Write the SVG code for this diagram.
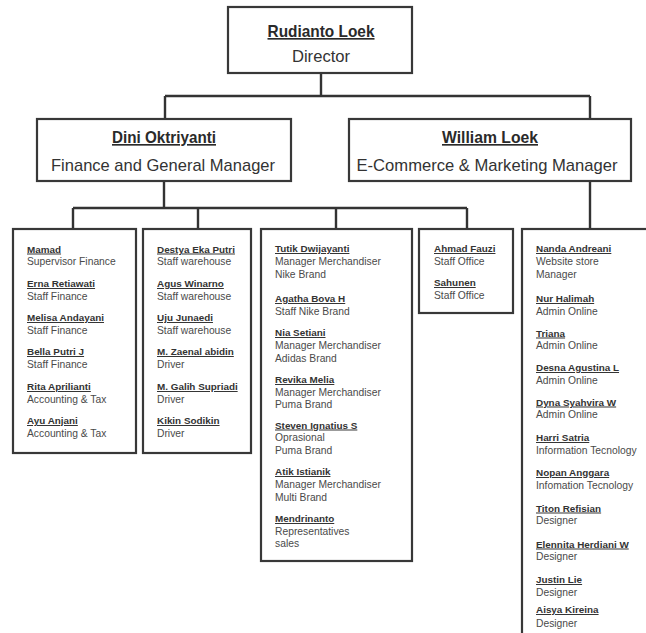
<svg xmlns="http://www.w3.org/2000/svg" width="646" height="633" viewBox="0 0 646 633">
<style>
.box{fill:#fff;stroke:#383838;stroke-width:2.2}
.conn{fill:none;stroke:#333;stroke-width:2.4}
.bn{font-family:"Liberation Sans",Arial,sans-serif;font-weight:bold;font-size:16.5px;fill:#2a2a2a;text-decoration:underline;text-anchor:middle}
.bt{font-family:"Liberation Sans",Arial,sans-serif;font-size:16.6px;fill:#333;text-anchor:middle}
.n{font-family:"Liberation Sans",Arial,sans-serif;font-weight:bold;font-size:9.9px;fill:#333;text-decoration:underline}
.s{font-family:"Liberation Sans",Arial,sans-serif;font-size:10.3px;fill:#4a4a4a}
</style>
<rect width="646" height="633" fill="#fff"/>
<g id="connectors">
<path class="conn" d="M321 73V96M165 96H590M165 96V119M590 96V119"/>
<path class="conn" d="M164 181V208M73 208H467M73 208V229M198 208V229M336 208V229M467 208V229"/>
<path class="conn" d="M590 181V229"/>
</g>
<g id="director">
<rect class="box" x="228" y="7" width="184" height="66"/>
<text class="bn" x="321" y="37" textLength="107" lengthAdjust="spacingAndGlyphs">Rudianto Loek</text>
<text class="bt" x="321" y="62">Director</text>
</g>
<g id="finance-manager">
<rect class="box" x="37" y="119" width="254" height="62"/>
<text class="bn" x="164" y="143" textLength="104" lengthAdjust="spacingAndGlyphs">Dini Oktriyanti</text>
<text class="bt" x="163" y="171" textLength="224" lengthAdjust="spacingAndGlyphs">Finance and General Manager</text>
</g>
<g id="ecommerce-manager">
<rect class="box" x="349" y="119" width="282" height="62"/>
<text class="bn" x="490" y="143" textLength="96" lengthAdjust="spacingAndGlyphs">William Loek</text>
<text class="bt" x="487" y="171" textLength="261" lengthAdjust="spacingAndGlyphs">E-Commerce &amp; Marketing Manager</text>
</g>
<g id="finance-staff">
<rect class="box" x="13" y="229" width="123" height="224"/>
<text class="n" x="27" y="252.5">Mamad</text>
<text class="s" x="27" y="265">Supervisor Finance</text>
<text class="n" x="27" y="287">Erna Retiawati</text>
<text class="s" x="27" y="299.5">Staff Finance</text>
<text class="n" x="27" y="321">Melisa Andayani</text>
<text class="s" x="27" y="333.5">Staff Finance</text>
<text class="n" x="27" y="355">Bella Putri J</text>
<text class="s" x="27" y="367.5">Staff Finance</text>
<text class="n" x="27" y="390">Rita Aprilianti</text>
<text class="s" x="27" y="402.5">Accounting &amp; Tax</text>
<text class="n" x="27" y="424">Ayu Anjani</text>
<text class="s" x="27" y="436.5">Accounting &amp; Tax</text>
</g>
<g id="warehouse-staff">
<rect class="box" x="143" y="229" width="108" height="224"/>
<text class="n" x="157" y="252.5">Destya Eka Putri</text>
<text class="s" x="157" y="265">Staff warehouse</text>
<text class="n" x="157" y="287">Agus Winarno</text>
<text class="s" x="157" y="299.5">Staff warehouse</text>
<text class="n" x="157" y="321">Uju Junaedi</text>
<text class="s" x="157" y="333.5">Staff warehouse</text>
<text class="n" x="157" y="355">M. Zaenal abidin</text>
<text class="s" x="157" y="367.5">Driver</text>
<text class="n" x="157" y="390">M. Galih Supriadi</text>
<text class="s" x="157" y="402.5">Driver</text>
<text class="n" x="157" y="424">Kikin Sodikin</text>
<text class="s" x="157" y="436.5">Driver</text>
</g>
<g id="merchandise-staff">
<rect class="box" x="261" y="229" width="151" height="332"/>
<text class="n" x="275" y="252">Tutik Dwijayanti</text>
<text class="s" x="275" y="265">Manager Merchandiser</text>
<text class="s" x="275" y="277.5">Nike Brand</text>
<text class="n" x="275" y="302">Agatha Bova H</text>
<text class="s" x="275" y="314.5">Staff Nike Brand</text>
<text class="n" x="275" y="336">Nia Setiani</text>
<text class="s" x="275" y="349">Manager Merchandiser</text>
<text class="s" x="275" y="361.5">Adidas Brand</text>
<text class="n" x="275" y="383">Revika Melia</text>
<text class="s" x="275" y="395.5">Manager Merchandiser</text>
<text class="s" x="275" y="408">Puma Brand</text>
<text class="n" x="275" y="428.5">Steven Ignatius S</text>
<text class="s" x="275" y="441">Oprasional</text>
<text class="s" x="275" y="453.5">Puma Brand</text>
<text class="n" x="275" y="475">Atik Istianik</text>
<text class="s" x="275" y="488">Manager Merchandiser</text>
<text class="s" x="275" y="500.5">Multi Brand</text>
<text class="n" x="275" y="522">Mendrinanto</text>
<text class="s" x="275" y="534.5">Representatives</text>
<text class="s" x="275" y="547">sales</text>
</g>
<g id="office-staff">
<rect class="box" x="419" y="229" width="94" height="84"/>
<text class="n" x="434" y="252">Ahmad Fauzi</text>
<text class="s" x="434" y="265">Staff Office</text>
<text class="n" x="434" y="286">Sahunen</text>
<text class="s" x="434" y="298.5">Staff Office</text>
</g>
<g id="ecommerce-staff">
<rect class="box" x="522" y="229" width="140" height="420"/>
<text class="n" x="536" y="252">Nanda Andreani</text>
<text class="s" x="536" y="265">Website store</text>
<text class="s" x="536" y="277.5">Manager</text>
<text class="n" x="536" y="302">Nur Halimah</text>
<text class="s" x="536" y="314.5">Admin Online</text>
<text class="n" x="536" y="336.5">Triana</text>
<text class="s" x="536" y="349">Admin Online</text>
<text class="n" x="536" y="371">Desna Agustina L</text>
<text class="s" x="536" y="383.5">Admin Online</text>
<text class="n" x="536" y="405.5">Dyna Syahvira W</text>
<text class="s" x="536" y="418">Admin Online</text>
<text class="n" x="536" y="441">Harri Satria</text>
<text class="s" x="536" y="454">Information Tecnology</text>
<text class="n" x="536" y="476">Nopan Anggara</text>
<text class="s" x="536" y="489">Infomation Tecnology</text>
<text class="n" x="536" y="511.5">Titon Refisian</text>
<text class="s" x="536" y="524">Designer</text>
<text class="n" x="536" y="547.5">Elennita Herdiani W</text>
<text class="s" x="536" y="560">Designer</text>
<text class="n" x="536" y="583">Justin Lie</text>
<text class="s" x="536" y="595.5">Designer</text>
<text class="n" x="536" y="613">Aisya Kireina</text>
<text class="s" x="536" y="626.5">Designer</text>
</g>
</svg>
